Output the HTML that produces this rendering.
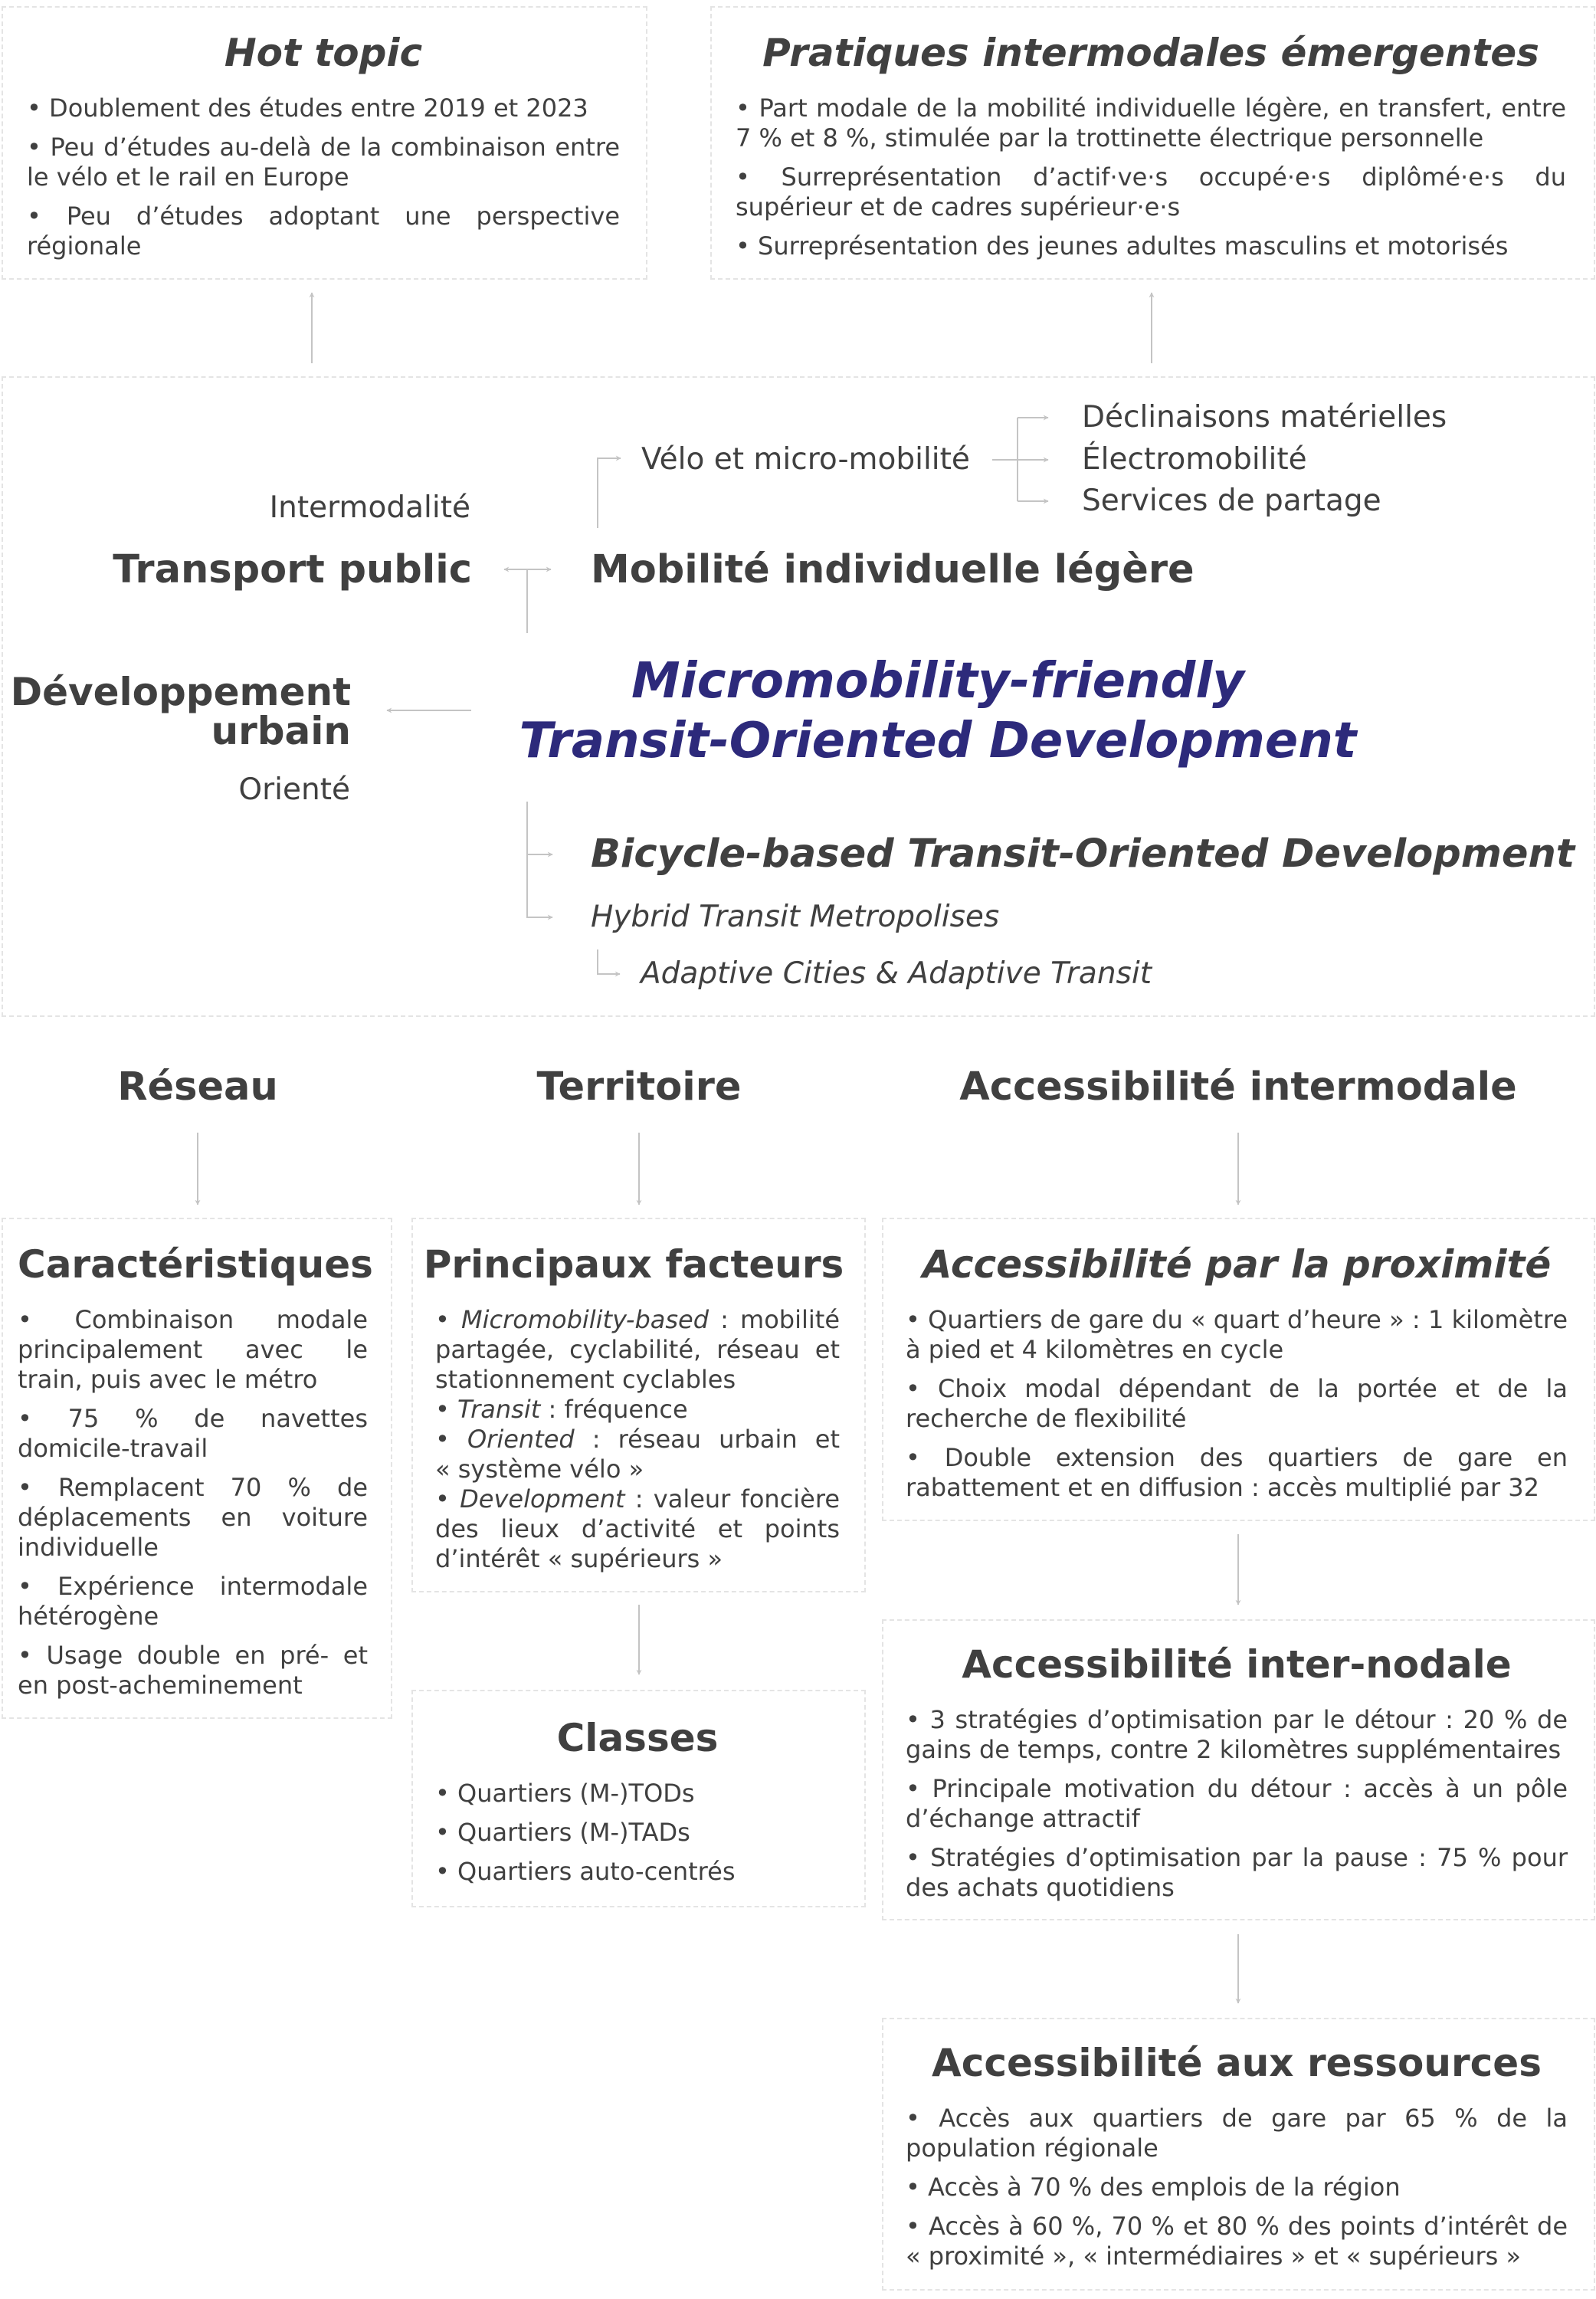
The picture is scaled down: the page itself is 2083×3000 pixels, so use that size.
<!DOCTYPE html>
<html><head><meta charset="utf-8">
<style>
*{margin:0;padding:0;box-sizing:border-box}
body{width:2083px;height:3000px;background:#fff;position:relative;overflow:hidden;font-family:"DejaVu Sans","Liberation Sans",sans-serif;color:#404040}
.box{position:absolute;border:2px dashed #e4e4e4}
.h{font-weight:bold;font-size:50px;line-height:62px;text-align:center;white-space:nowrap;margin-bottom:22px}
.hi{font-style:italic}
.t{font-size:32px;line-height:39px}
.t div{text-align:left}
.t .j{text-align:justify;text-align-last:justify}
.p{margin-bottom:12px}
.a{position:absolute;white-space:nowrap}
.lab{font-size:39px;line-height:48px}
.b{font-weight:bold;font-size:51px;line-height:62px}
svg{position:absolute;left:0;top:0}
</style></head><body>

<div class="box" style="left:2px;top:8px;width:843px;height:357px;padding:28px 34px 0 31px">
<div class="h hi">Hot topic</div>
<div class="t">
<div class="p"><div>• Doublement des études entre 2019 et 2023</div></div>
<div class="p"><div class="j">• Peu d’études au-delà de la combinaison entre</div><div>le vélo et le rail en Europe</div></div>
<div class="p"><div class="j">• Peu d’études adoptant une perspective</div><div>régionale</div></div>
</div></div>

<div class="box" style="left:927px;top:8px;width:1155px;height:357px;padding:28px 36px 0 31px">
<div class="h hi">Pratiques intermodales émergentes</div>
<div class="t">
<div class="p"><div class="j">• Part modale de la mobilité individuelle légère, en transfert, entre</div><div>7 % et 8 %, stimulée par la trottinette électrique personnelle</div></div>
<div class="p"><div class="j">• Surreprésentation d’actif·ve·s occupé·e·s diplômé·e·s du</div><div>supérieur et de cadres supérieur·e·s</div></div>
<div class="p"><div>• Surreprésentation des jeunes adultes masculins et motorisés</div></div>
</div></div>

<div class="box" style="left:2px;top:491px;width:2080px;height:836px"></div>

<div class="a lab" style="right:1469px;top:639px">Intermodalité</div>
<div class="a b" style="right:1467px;top:713px">Transport public</div>
<div class="a b" style="left:771px;top:713px">Mobilité individuelle légère</div>
<div class="a lab" style="left:837px;top:576px">Vélo et micro-mobilité</div>
<div class="a lab" style="left:1412px;top:521px">Déclinaisons matérielles</div>
<div class="a lab" style="left:1412px;top:576px">Électromobilité</div>
<div class="a lab" style="left:1412px;top:630px">Services de partage</div>
<div class="a" style="right:1625px;top:878px;font-weight:bold;font-size:50px;line-height:51px;text-align:right">Développement<br>urbain</div>
<div class="a lab" style="right:1626px;top:1007px">Orienté</div>
<div class="a" style="left:624px;width:1200px;top:850px;text-align:center;font-weight:bold;font-style:italic;font-size:64px;line-height:78px;color:#2d2a7b">Micromobility-friendly<br>Transit-Oriented Development</div>
<div class="a" style="left:771px;top:1084px;font-weight:bold;font-style:italic;font-size:51px;line-height:62px">Bicycle-based Transit-Oriented Development</div>
<div class="a lab" style="left:771px;top:1173px;font-style:italic">Hybrid Transit Metropolises</div>
<div class="a lab" style="left:836px;top:1247px;font-style:italic">Adaptive Cities &amp; Adaptive Transit</div>

<div class="a b" style="left:0;width:516px;text-align:center;top:1388px">Réseau</div>
<div class="a b" style="left:534px;width:600px;text-align:center;top:1388px">Territoire</div>
<div class="a b" style="left:1116px;width:1000px;text-align:center;top:1388px">Accessibilité intermodale</div>

<div class="box" style="left:2px;top:1589px;width:510px;height:654px;padding:28px 30px 0 19px">
<div class="h">Caractéristiques</div>
<div class="t">
<div class="p"><div class="j">• Combinaison modale</div><div class="j">principalement avec le</div><div>train, puis avec le métro</div></div>
<div class="p"><div class="j">• 75 % de navettes</div><div>domicile-travail</div></div>
<div class="p"><div class="j">• Remplacent 70 % de</div><div class="j">déplacements en voiture</div><div>individuelle</div></div>
<div class="p"><div class="j">• Expérience intermodale</div><div>hétérogène</div></div>
<div class="p"><div class="j">• Usage double en pré- et</div><div>en post-acheminement</div></div>
</div></div>

<div class="box" style="left:537px;top:1589px;width:593px;height:489px;padding:28px 32px 0 29px">
<div class="h" style="margin-left:-20px;margin-right:-10px">Principaux facteurs</div>
<div class="t">
<div class="j">• <i>Micromobility-based</i> : mobilité</div>
<div class="j">partagée, cyclabilité, réseau et</div>
<div>stationnement cyclables</div>
<div>• <i>Transit</i> : fréquence</div>
<div class="j">• <i>Oriented</i> : réseau urbain et</div>
<div>« système vélo »</div>
<div class="j">• <i>Development</i> : valeur foncière</div>
<div class="j">des lieux d’activité et points</div>
<div>d’intérêt « supérieurs »</div>
</div></div>

<div class="box" style="left:537px;top:2205px;width:593px;height:284px;padding:30px 32px 0 29px">
<div class="h">Classes</div>
<div class="t">
<div class="p">• Quartiers (M-)TODs</div>
<div class="p">• Quartiers (M-)TADs</div>
<div class="p">• Quartiers auto-centrés</div>
</div></div>

<div class="box" style="left:1151px;top:1589px;width:931px;height:396px;padding:28px 34px 0 29px">
<div class="h hi">Accessibilité par la proximité</div>
<div class="t">
<div class="p"><div class="j">• Quartiers de gare du « quart d’heure » : 1 kilomètre</div><div>à pied et 4 kilomètres en cycle</div></div>
<div class="p"><div class="j">• Choix modal dépendant de la portée et de la</div><div>recherche de flexibilité</div></div>
<div class="p"><div class="j">• Double extension des quartiers de gare en</div><div>rabattement et en diffusion : accès multiplié par 32</div></div>
</div></div>

<div class="box" style="left:1151px;top:2113px;width:931px;height:393px;padding:26px 34px 0 29px">
<div class="h">Accessibilité inter-nodale</div>
<div class="t">
<div class="p"><div class="j">• 3 stratégies d’optimisation par le détour : 20 % de</div><div>gains de temps, contre 2 kilomètres supplémentaires</div></div>
<div class="p"><div class="j">• Principale motivation du détour : accès à un pôle</div><div>d’échange attractif</div></div>
<div class="p"><div class="j">• Stratégies d’optimisation par la pause : 75 % pour</div><div>des achats quotidiens</div></div>
</div></div>

<div class="box" style="left:1151px;top:2633px;width:931px;height:356px;padding:26px 34px 0 29px">
<div class="h">Accessibilité aux ressources</div>
<div class="t">
<div class="p"><div class="j">• Accès aux quartiers de gare par 65 % de la</div><div>population régionale</div></div>
<div class="p"><div>• Accès à 70 % des emplois de la région</div></div>
<div class="p"><div class="j">• Accès à 60 %, 70 % et 80 % des points d’intérêt de</div><div>« proximité », « intermédiaires » et « supérieurs »</div></div>
</div></div>

<svg width="2083" height="3000" viewBox="0 0 2083 3000">
<defs>
<marker id="m" viewBox="0 0 10 10" refX="9" refY="5" markerWidth="7" markerHeight="7" orient="auto-start-reverse" markerUnits="userSpaceOnUse">
<path d="M0,0 L10,5 L0,10 L3,5 z" fill="#c4c4c4"/>
</marker>
</defs>
<g stroke="#c4c4c4" stroke-width="2" fill="none">
<path d="M407 474 V382" marker-end="url(#m)"/>
<path d="M1503 474 V382" marker-end="url(#m)"/>
<path d="M658 743 H719" marker-start="url(#m)" marker-end="url(#m)"/>
<path d="M688 743 V826"/>
<path d="M780 689 V598 H810" marker-end="url(#m)"/>
<path d="M1295 600 H1368" marker-end="url(#m)"/>
<path d="M1328 545 V654"/>
<path d="M1328 545 H1368" marker-end="url(#m)"/>
<path d="M1328 654 H1368" marker-end="url(#m)"/>
<path d="M615 927 H505" marker-end="url(#m)"/>
<path d="M688 1046 V1197 H721" marker-end="url(#m)"/>
<path d="M688 1115 H721" marker-end="url(#m)"/>
<path d="M780 1239 V1271 H809" marker-end="url(#m)"/>
<path d="M258 1478 V1572" marker-end="url(#m)"/>
<path d="M834 1478 V1572" marker-end="url(#m)"/>
<path d="M1616 1478 V1572" marker-end="url(#m)"/>
<path d="M834 2094 V2185" marker-end="url(#m)"/>
<path d="M1616 2002 V2094" marker-end="url(#m)"/>
<path d="M1616 2524 V2614" marker-end="url(#m)"/>
</g>
</svg>
</body></html>
